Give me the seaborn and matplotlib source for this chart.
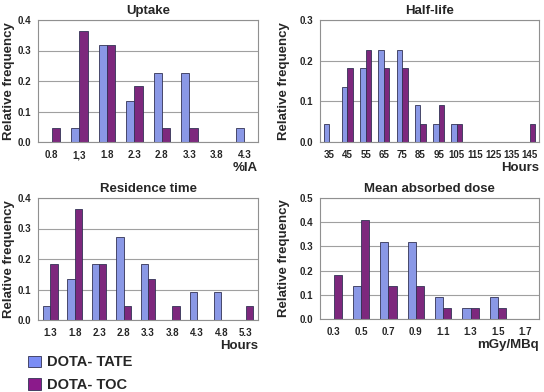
import matplotlib
matplotlib.use("Agg")
import matplotlib.pyplot as plt
import seaborn as sns
import pandas as pd
import numpy as np
from matplotlib.patches import Patch

# ---- data ----
series = ["DOTA- TATE", "DOTA- TOC"]

uptake_cats = ["0.8", "1,3", "1.8", "2.3", "2.8", "3.3", "3.8", "4.3"]
uptake_tate = [0.0, 0.045, 0.318, 0.136, 0.227, 0.227, 0.0, 0.045]
uptake_toc = [0.045, 0.364, 0.318, 0.182, 0.045, 0.045, 0.0, 0.0]

half_cats = ["35", "45", "55", "65", "75", "85", "95", "105", "115", "125", "135", "145"]
half_tate = [0.045, 0.136, 0.182, 0.227, 0.227, 0.091, 0.045, 0.045, 0, 0, 0, 0]
half_toc = [0.0, 0.182, 0.227, 0.182, 0.182, 0.045, 0.091, 0.045, 0, 0, 0, 0.045]

res_cats = ["1.3", "1.8", "2.3", "2.8", "3.3", "3.8", "4.3", "4.8", "5.3"]
res_tate = [0.045, 0.136, 0.182, 0.273, 0.182, 0.0, 0.091, 0.091, 0.0]
res_toc = [0.182, 0.364, 0.182, 0.045, 0.136, 0.045, 0.0, 0.0, 0.045]

dose_cats = ["0.3", "0.5", "0.7", "0.9", "1.1", "1.3", "1.5", "1.7"]
dose_tate = [0.0, 0.136, 0.318, 0.318, 0.091, 0.045, 0.091, 0.0]
dose_toc = [0.182, 0.409, 0.136, 0.136, 0.045, 0.045, 0.045, 0.0]

colors = ["#7b8df5", "#8b1a8b"]

sns.set_style("white")
plt.rcParams["font.family"] = ["Liberation Sans", "DejaVu Sans"]

fig = plt.figure(figsize=(5.44, 3.92), dpi=100)
W, H = 544, 392

def make_ax(l, t, r, b):
    return fig.add_axes([l / W, 1 - b / H, (r - l) / W, (b - t) / H])

panels = [
    ("Uptake", uptake_cats, uptake_tate, uptake_toc, "%IA", 0.4, 0.1, (38, 20, 258, 142), 15),
    ("Half-life", half_cats, half_tate, half_toc, "Hours", 0.3, 0.1, (320, 20, 539, 142), 290),
    ("Residence time", res_cats, res_tate, res_toc, "Hours", 0.4, 0.1, (38, 198, 258, 320), 15),
    ("Mean absorbed dose", dose_cats, dose_tate, dose_toc, "mGy/MBq", 0.5, 0.1, (320, 198, 539, 319), 290),
]

for title, cats, tate, toc, xl, ymax, ystep, box, ylx in panels:
    ax = make_ax(*box)
    df = pd.DataFrame({
        "cat": cats * 2,
        "val": list(tate) + list(toc),
        "series": [series[0]] * len(cats) + [series[1]] * len(cats),
    })
    sns.barplot(data=df, x="cat", y="val", hue="series", palette=colors,
                width=0.6, edgecolor="#333355", linewidth=0.6, ax=ax,
                legend=False, order=cats, hue_order=series)
    ax.set_xlim(-0.5, len(cats) - 0.5)
    ax.set_ylim(0, ymax)
    yt = np.round(np.arange(0, ymax + 1e-9, ystep), 2)
    ax.set_yticks(yt)
    ax.set_yticklabels([f"{v:.1f}" for v in yt], fontsize=7, fontweight="bold")
    ax.set_xticks(range(len(cats)))
    ax.set_xticklabels(cats, fontsize=7, fontweight="bold")
    ax.set_xticks(np.arange(-0.5, len(cats)), minor=True)
    ax.tick_params(axis="x", which="major", length=0, pad=6)
    ax.tick_params(axis="x", which="minor", length=3, color="#808080", direction="out")
    ax.tick_params(axis="y", length=3, color="#808080", direction="out", pad=2)
    ax.grid(axis="y", color="#a0a0a0", linewidth=0.8)
    ax.set_axisbelow(True)
    for s in ax.spines.values():
        s.set_color("#909090")
        s.set_linewidth(0.8)
    ax.set_title(title, fontsize=9.5, fontweight="bold", pad=4)
    ax.set_ylabel("Relative frequency", fontsize=9.5, fontweight="bold")
    l, t, r, b = box
    ax.yaxis.set_label_coords((ylx - l) / (r - l), 0.5)
    ax.set_xlabel(xl, fontsize=9.5, fontweight="bold", loc="right", labelpad=1)

handles = [Patch(facecolor=c, edgecolor="#333355", linewidth=0.6) for c in colors]
fig.legend(handles, series, loc="upper left", bbox_to_anchor=(24 / W, 1 - 351 / H),
           frameon=False, prop={"size": 10.5, "weight": "bold"}, handlelength=0.85,
           handleheight=0.85, labelspacing=0.6, handletextpad=0.4,
           borderaxespad=0, borderpad=0.3)

fig.savefig("out.png", dpi=100)
